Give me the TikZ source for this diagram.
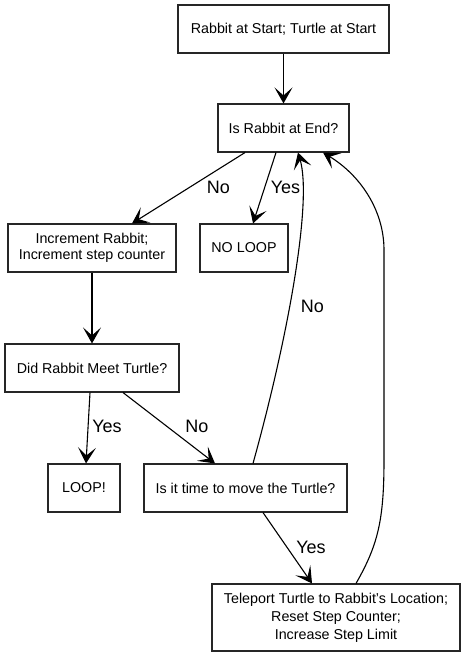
\documentclass[tikz,border=0pt]{standalone}
\usepackage{fontspec}
\setmainfont{Liberation Sans}
\usetikzlibrary{arrows.meta}
\tikzset{
  box/.style={draw=black!85, line width=1.1pt, rectangle, inner sep=0pt, align=center, font=\fontsize{14.3}{16}\selectfont},
  conn/.style={line width=1.1pt, -{Stealth[length=16pt, width=18pt, inset=8pt]}},
  lab/.style={font=\fontsize{18}{20}\selectfont, inner sep=0pt}
}
\begin{document}
\begin{tikzpicture}[x=1pt,y=-1pt]
\useasboundingbox (0,0) rectangle (465,656);
\fill[white] (0,0) rectangle (465,656);
\node[box, minimum width=211pt, minimum height=48pt] (n1) at (283.5,29) {Rabbit at Start; Turtle at Start};
\node[box, minimum width=131pt, minimum height=48pt] (n2) at (283.5,128) {Is Rabbit at End?};
\node[box, minimum width=168pt, minimum height=48pt] (inc) at (92,248) {Increment Rabbit;\\Increment step counter};
\node[box, minimum width=88pt, minimum height=48pt] (noloop) at (244,248) {NO LOOP};
\node[box, minimum width=174pt, minimum height=48pt] (did) at (92,368) {Did Rabbit Meet Turtle?};
\node[box, minimum width=72pt, minimum height=48pt] (loop) at (84,488) {LOOP!};
\node[box, minimum width=203pt, minimum height=48pt] (time) at (245.5,488) {Is it time to move the Turtle?};
\node[box, minimum width=248pt, minimum height=67pt, font=\fontsize{14.3}{18}\selectfont] (tele) at (336,617.5) {Teleport Turtle to Rabbit's Location;\\Reset Step Counter;\\Increase Step Limit};

\draw[conn] (n1.south) -- (n2.north);
\draw[conn] ([xshift=-38.5pt]n2.south) -- ([xshift=40pt]inc.north);
\draw[conn] ([xshift=-7.5pt]n2.south) -- ([xshift=9pt]noloop.north);
\draw[conn] (inc.south) -- (did.north);
\draw[conn] ([xshift=-2pt]did.south) -- ([xshift=2pt]loop.north);
\draw[conn] ([xshift=31pt]did.south) -- ([xshift=-30.5pt]time.north);
\draw[conn] ([xshift=17.5pt]time.south) -- ([xshift=-24pt]tele.north);
\draw[conn] ([xshift=7.5pt]time.north) .. controls (290,330) and (312,200) .. ([xshift=14.5pt]n2.south);
\draw[conn] ([xshift=20pt]tele.north) .. controls (378,545) and (384,520) .. (384,460) -- (384,250) .. controls (384,210) and (360,175) .. ([xshift=39.5pt]n2.south);

\node[lab] (l1) at (218.5,187) {No};
\node[lab] (l2) at (285.5,187) {Yes};
\node[lab] (l3) at (107,426) {Yes};
\node[lab] (l4) at (197,426) {No};
\node[lab] (l5) at (311,547) {Yes};
\node[lab] (l6) at (312.5,306.5) {No};
\end{tikzpicture}
\end{document}
